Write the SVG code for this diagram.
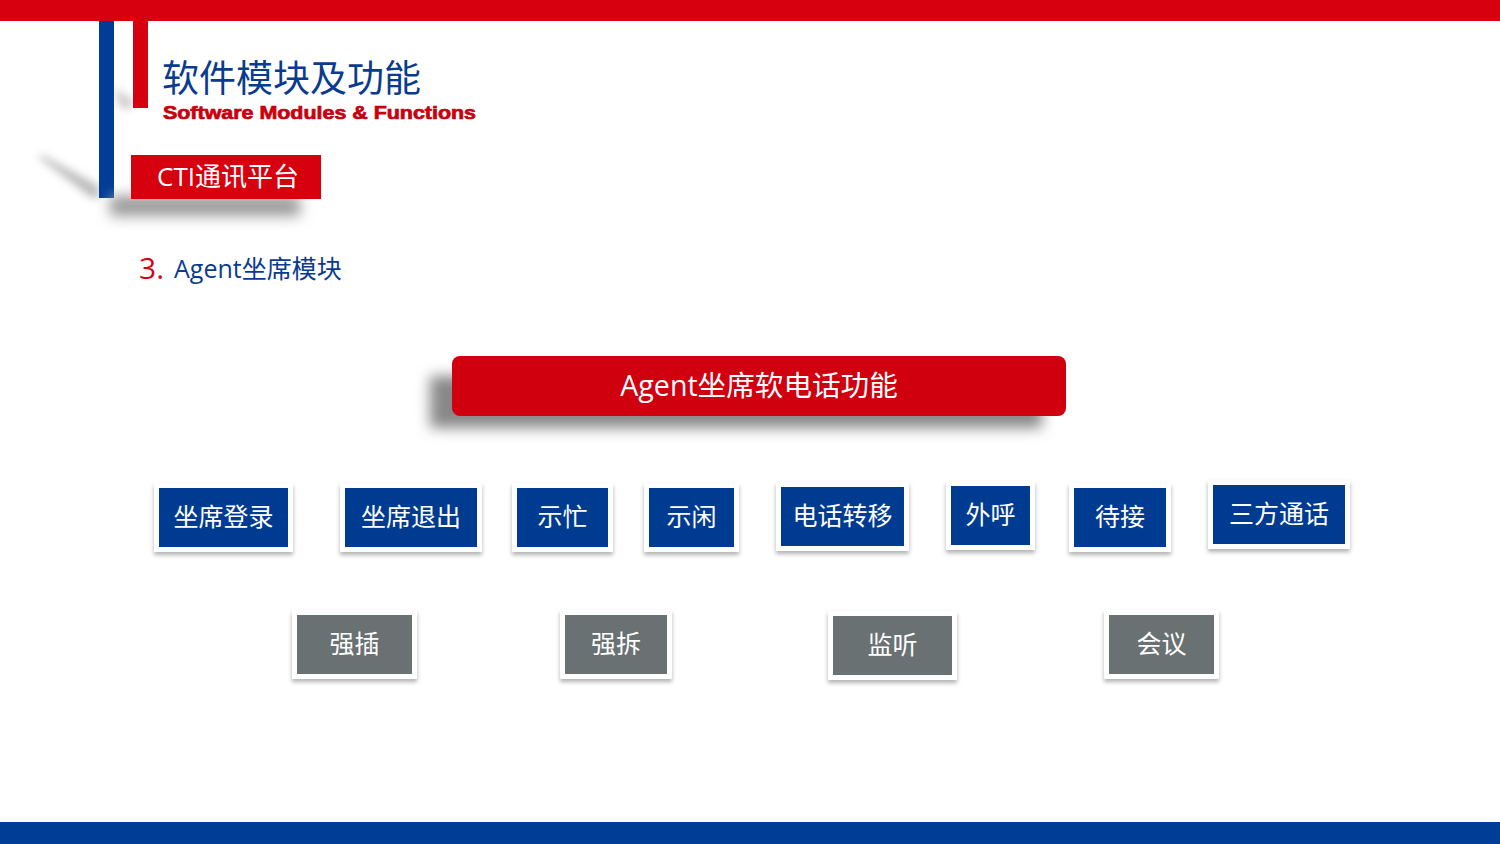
<svg xmlns="http://www.w3.org/2000/svg" width="1500" height="844" viewBox="0 0 1500 844">
<defs>
<style>
.cjk{font-family:"Open Sans","Noto Sans CJK SC",sans-serif;}
.btxt{font-family:"Open Sans","Noto Sans CJK SC",sans-serif;font-size:25px;fill:#fff;text-anchor:middle;}
.frame{fill:#fff;filter:url(#fs);}
.blue{fill:#003b92;}
.gray{fill:#6a7172;}
</style>
<filter id="fs" x="-20%" y="-20%" width="140%" height="150%">
<feDropShadow dx="0" dy="3" stdDeviation="2" flood-color="#000" flood-opacity="0.3"/>
</filter>
<filter id="blur8" x="-30%" y="-100%" width="160%" height="300%"><feGaussianBlur stdDeviation="7"/></filter>
<filter id="blur4" x="-30%" y="-100%" width="160%" height="300%"><feGaussianBlur stdDeviation="4"/></filter>
</defs>
<rect x="0" y="0" width="1500" height="844" fill="#fff"/>
<rect x="0" y="0" width="1500" height="21" fill="#d7000f"/>
<rect x="0" y="822" width="1500" height="22" fill="#003d96"/>
<g id="header">
<polygon points="37,156 44,156 99,186 99,198 92,198" fill="#bbb" filter="url(#blur4)"/>
<polygon points="114,88 133,100 133,108 120,108" fill="#ccc" filter="url(#blur4)"/>
<rect x="99" y="21" width="15" height="177" fill="#003d96"/>
<rect x="133" y="21" width="15" height="87" fill="#d7000f"/>
<text x="162" y="92" class="cjk" font-size="37" fill="#0a3b8f">软件模块及功能</text>
<text x="163" y="119" font-family="Liberation Sans, Arial, sans-serif" font-weight="bold" font-size="18" fill="#c8000d" stroke="#c8000d" stroke-width="0.7" textLength="313" lengthAdjust="spacingAndGlyphs">Software Modules &amp; Functions</text>
</g>
<g id="cti">
<rect x="110" y="196" width="190" height="20" fill="#999" filter="url(#blur8)"/>
<rect x="131" y="155" width="190" height="44" fill="#d7000f"/>
<text x="157" y="186" class="cjk" font-size="26" fill="#fff">CTI通讯平台</text>
</g>
<g id="section">
<text x="139" y="279" font-family="Open Sans, sans-serif" font-size="30" fill="#d7000f">3.</text>
<text x="174" y="278" class="cjk" font-size="25" fill="#0a3b8f">Agent坐席模块</text>
</g>
<g id="root">
<rect x="430" y="376" width="612" height="52" fill="#888" filter="url(#blur8)"/>
<rect x="452" y="356" width="614" height="60" rx="8" fill="#d0000f"/>
<text x="759" y="396" class="cjk" font-size="28.6" fill="#fff" text-anchor="middle">Agent坐席软电话功能</text>
</g>
<g id="connectors"/>
<g id="n-login"><rect class="frame" x="154" y="483" width="139" height="69"/><rect class="blue" x="159" y="488" width="129" height="59"/><text class="btxt" x="223.5" y="526">坐席登录</text></g>
<g id="n-logout"><rect class="frame" x="340" y="483" width="142" height="69"/><rect class="blue" x="345" y="488" width="132" height="59"/><text class="btxt" x="411" y="526">坐席退出</text></g>
<g id="n-busy"><rect class="frame" x="512" y="483" width="101" height="69"/><rect class="blue" x="517" y="488" width="91" height="59"/><text class="btxt" x="562.5" y="526">示忙</text></g>
<g id="n-idle"><rect class="frame" x="644" y="483" width="95" height="69"/><rect class="blue" x="649" y="488" width="85" height="59"/><text class="btxt" x="691.5" y="526">示闲</text></g>
<g id="n-transfer"><rect class="frame" x="776" y="482" width="133" height="69"/><rect class="blue" x="781" y="487" width="123" height="59"/><text class="btxt" x="842.5" y="525">电话转移</text></g>
<g id="n-outbound"><rect class="frame" x="946" y="481" width="89" height="69"/><rect class="blue" x="951" y="486" width="79" height="59"/><text class="btxt" x="990.5" y="524">外呼</text></g>
<g id="n-wait"><rect class="frame" x="1069" y="483" width="102" height="69"/><rect class="blue" x="1074" y="488" width="92" height="59"/><text class="btxt" x="1120" y="526">待接</text></g>
<g id="n-three"><rect class="frame" x="1208" y="480" width="142" height="69"/><rect class="blue" x="1213" y="485" width="132" height="59"/><text class="btxt" x="1279" y="523">三方通话</text></g>
<g id="n-barge"><rect class="frame" x="292" y="610" width="125" height="69"/><rect class="gray" x="297" y="615" width="115" height="59"/><text class="btxt" x="354.5" y="653">强插</text></g>
<g id="n-break"><rect class="frame" x="560" y="610" width="112" height="69"/><rect class="gray" x="565" y="615" width="102" height="59"/><text class="btxt" x="616" y="653">强拆</text></g>
<g id="n-monitor"><rect class="frame" x="828" y="611" width="129" height="69"/><rect class="gray" x="833" y="616" width="119" height="59"/><text class="btxt" x="892.5" y="654">监听</text></g>
<g id="n-conf"><rect class="frame" x="1104" y="610" width="115" height="69"/><rect class="gray" x="1109" y="615" width="105" height="59"/><text class="btxt" x="1161.5" y="653">会议</text></g>
</svg>
